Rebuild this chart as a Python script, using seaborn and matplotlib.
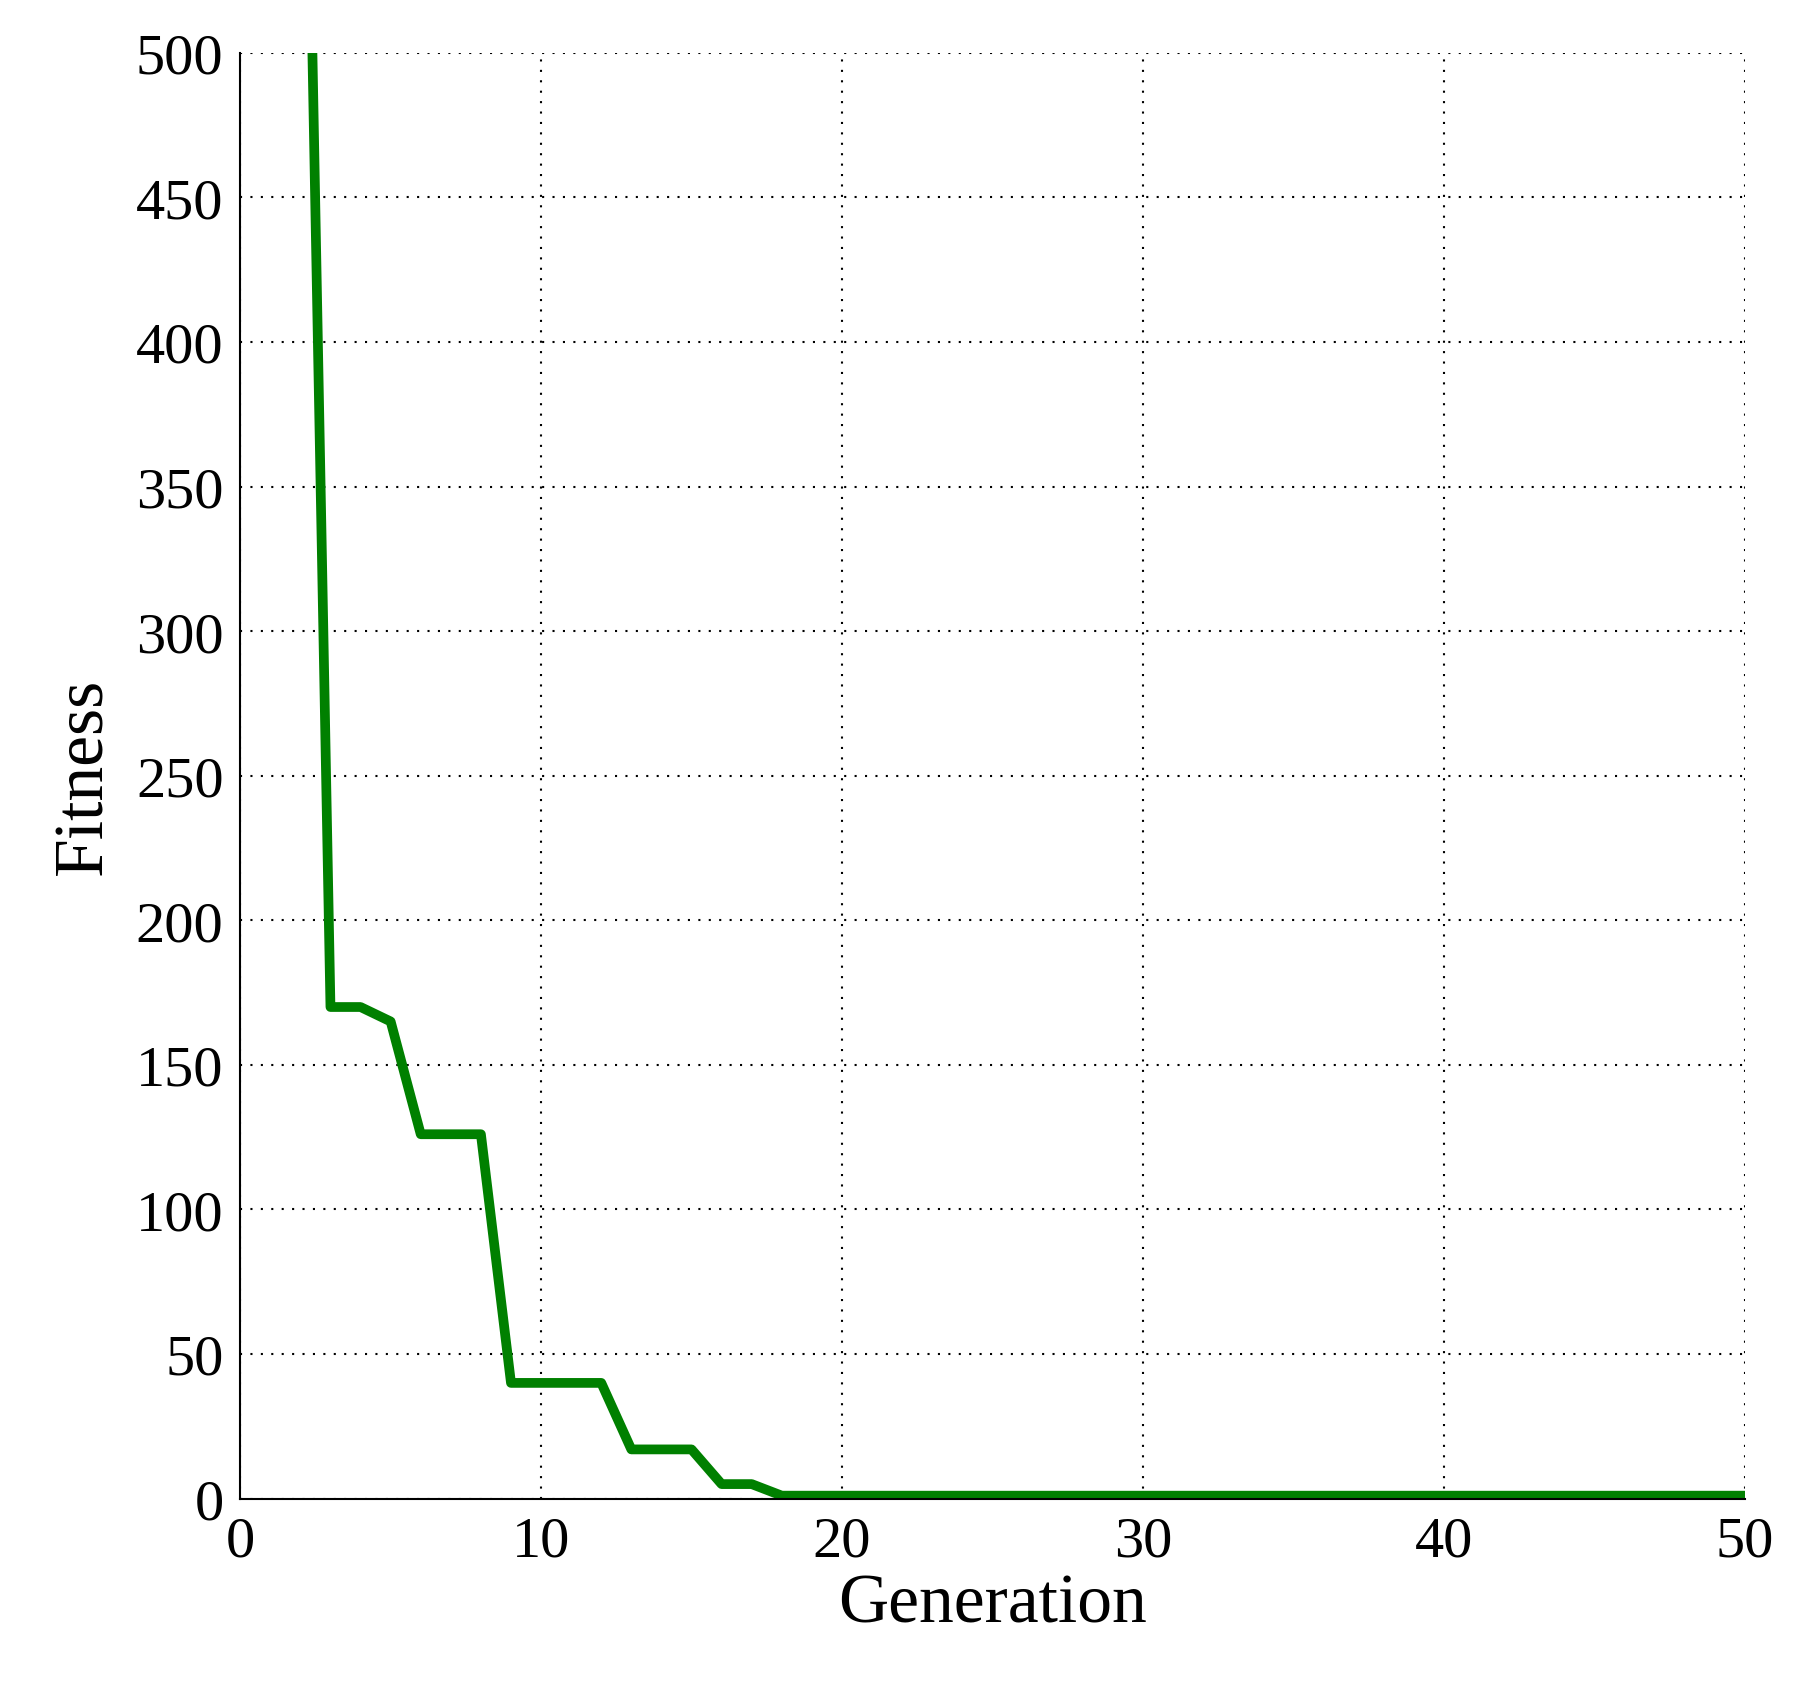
import matplotlib
matplotlib.use('Agg')
import matplotlib.pyplot as plt
import seaborn as sns
import pandas as pd

# --- dados ---
generation = list(range(2, 51))
fitness = [720, 170, 170, 165, 126, 126, 126, 40, 40, 40, 40, 17, 17, 17, 5, 5] + [1] * 33

df = pd.DataFrame({'Generation': generation, 'Fitness': fitness})

sns.set_style('white')
plt.rcParams['font.family'] = ['Liberation Serif', 'DejaVu Serif']

fig = plt.figure(figsize=(18.06, 16.83), dpi=100)
ax = fig.add_axes([0.133, 0.109, 0.833, 0.859])
sns.lineplot(data=df, x='Generation', y='Fitness', color='#008000', linewidth=7, ax=ax)

ax.set_xlim(0, 50)
ax.set_ylim(0, 500)
ax.set_xticks(range(0, 51, 10))
ax.set_yticks(range(0, 501, 50))
ax.grid(True, linestyle=(0, (1, 4)), color='black', linewidth=1.5)
for side in ['top', 'right']:
    ax.spines[side].set_visible(False)
for side in ['left', 'bottom']:
    ax.spines[side].set_color('black')
    ax.spines[side].set_linewidth(1.5)
ax.tick_params(labelsize=42, direction='in', length=8, color='black', labelcolor='black', pad=12)
ax.set_xlabel('Generation', fontsize=50, color='black', labelpad=4)
ax.set_ylabel('Fitness', fontsize=50, color='black', labelpad=14)

fig.savefig('out.png', dpi=100)
